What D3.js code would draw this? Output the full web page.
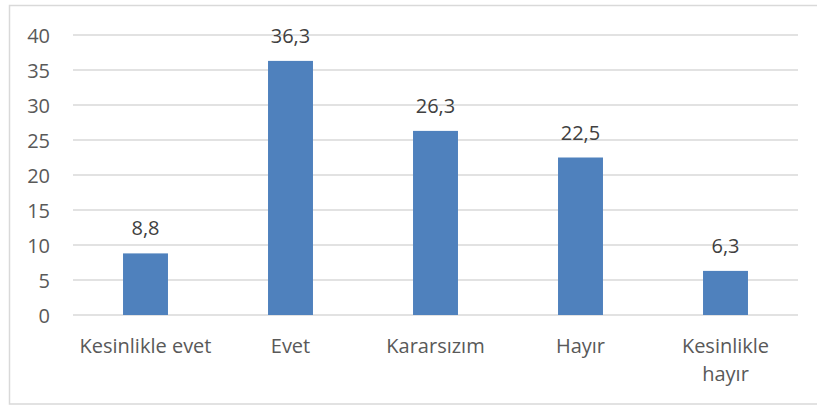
<!DOCTYPE html>
<html>
<head>
<meta charset="utf-8">
<script src="https://cdn.jsdelivr.net/npm/d3@7"></script>
<style>
  body { margin: 0; padding: 0; background: #fff; }
  svg text { font-family: 'Open Sans', sans-serif; }
</style>
</head>
<body>
<div id="chart"></div>
<script>
const categories = ['Kesinlikle evet', 'Evet', 'Kararsızım', 'Hayır', 'Kesinlikle hayır']
const labelLines = [['Kesinlikle evet'], ['Evet'], ['Kararsızım'], ['Hayır'], ['Kesinlikle', 'hayır']]
const values = [8.8, 36.3, 26.3, 22.5, 6.3]
const valueLabels = ['8,8', '36,3', '26,3', '22,5', '6,3']
const yTicks = [0, 5, 10, 15, 20, 25, 30, 35, 40]

const width = 817
const height = 405
const margin = {top: 35, right: 19, bottom: 90, left: 73}

const svg = d3.select('#chart').append('svg')
  .attr('width', width)
  .attr('height', height)

// chart frame
svg.append('rect')
  .attr('x', 9.5).attr('y', 5.5)
  .attr('width', 820).attr('height', 398.5)
  .attr('fill', 'none')
  .attr('stroke', '#d9d9d9')
  .attr('stroke-width', 1.5)

const x = d3.scaleBand()
  .domain(categories)
  .range([margin.left, width - margin.right])
  .paddingInner(0.69)
  .paddingOuter(0.345)

const y = d3.scaleLinear()
  .domain([0, 40])
  .range([height - margin.bottom, margin.top])

// gridlines
svg.append('g')
  .selectAll('line')
  .data(yTicks)
  .enter()
  .append('line')
  .attr('x1', margin.left)
  .attr('x2', width - margin.right)
  .attr('y1', d => y(d))
  .attr('y2', d => y(d))
  .attr('stroke', '#d9d9d9')
  .attr('stroke-width', 1.5)

// y axis labels
const yAxis = d3.axisLeft(y).tickValues(yTicks).tickSize(0).tickPadding(0)
const gy = svg.append('g')
  .attr('transform', 'translate(50,0)')
  .call(yAxis)
gy.select('.domain').remove()
gy.selectAll('text')
  .attr('fill', '#595959')
  .style('font-size', '20px')
  .attr('dy', '0.35em')

// bars
svg.append('g')
  .selectAll('rect')
  .data(values)
  .enter()
  .append('rect')
  .attr('x', (d, i) => x(categories[i]))
  .attr('width', x.bandwidth())
  .attr('y', d => y(d))
  .attr('height', d => y(0) - y(d))
  .attr('fill', '#4f81bd')

// value labels
svg.append('g')
  .selectAll('text')
  .data(values)
  .enter()
  .append('text')
  .attr('x', (d, i) => x(categories[i]) + x.bandwidth() / 2)
  .attr('y', d => y(d) - 18)
  .attr('text-anchor', 'middle')
  .attr('fill', '#404040')
  .style('font-size', '20px')
  .text((d, i) => valueLabels[i])

// category labels
const cat = svg.append('g')
  .selectAll('text')
  .data(categories)
  .enter()
  .append('text')
  .attr('x', d => x(d) + x.bandwidth() / 2)
  .attr('y', 353)
  .attr('text-anchor', 'middle')
  .attr('fill', '#595959')
  .style('font-size', '20px')

cat.selectAll('tspan')
  .data((d, i) => labelLines[i])
  .enter()
  .append('tspan')
  .attr('x', function () { return this.parentNode.getAttribute('x') })
  .attr('dy', (d, i) => i === 0 ? 0 : 28)
  .text(d => d)
</script>
</body>
</html>
